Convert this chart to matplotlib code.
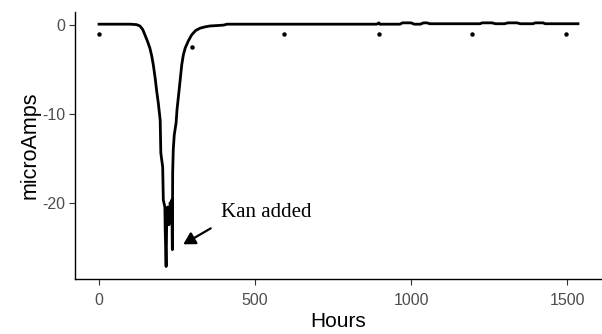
import matplotlib.pyplot as plt

plt.rcParams["axes.unicode_minus"] = False

# current trace (hours vs microAmps)
hours = [0, 60, 100, 120, 131, 140, 147, 155, 163, 169, 174, 180, 185, 190,
         196, 198, 204, 206, 211, 212, 215, 217, 220, 224, 228, 231, 233,
         235, 236, 238, 241, 247, 250, 254, 260, 265, 270, 276, 286, 297,
         310, 324, 340, 356, 380, 400, 410, 600, 890, 897, 900, 965, 972,
         1000, 1010, 1030, 1040, 1051, 1060, 1221, 1228, 1260, 1270, 1300,
         1310, 1340, 1350, 1391, 1398, 1423, 1430, 1535]
current = [0.1, 0.1, 0.1, 0.05, -0.1, -0.5, -1.1, -1.8, -2.6, -3.5, -4.5,
           -6.0, -7.5, -8.8, -10.7, -14.4, -16.0, -19.7, -20.5, -23.0,
           -27.2, -22.0, -20.5, -22.5, -20.0, -21.0, -19.7, -25.3, -16.6,
           -14.0, -12.4, -11.0, -9.5, -8.2, -6.2, -4.5, -3.4, -2.6, -1.8,
           -1.1, -0.6, -0.35, -0.2, -0.1, -0.05, 0.0, 0.1, 0.1, 0.1, 0.25,
           0.1, 0.1, 0.25, 0.25, 0.1, 0.1, 0.25, 0.25, 0.15, 0.15, 0.25,
           0.25, 0.15, 0.15, 0.25, 0.25, 0.15, 0.15, 0.25, 0.25, 0.15, 0.15]

# stray readings below the trace
out_hours = [0, 297, 593, 897, 1195, 1497]
out_current = [-0.95, -2.5, -0.95, -0.95, -0.95, -0.95]

fig = plt.figure(figsize=(6.02, 3.34), dpi=100)
ax = fig.add_axes([0.1246, 0.1638, 0.8754, 0.801])

ax.plot(hours, current, color="black", lw=2.0)
ax.plot(out_hours, out_current, "o", color="black", markersize=2.2)

ax.annotate("", xy=(270, -24.7), xytext=(358, -22.9),
            arrowprops=dict(arrowstyle="-|>,head_length=0.7,head_width=0.4",
                            color="black", lw=1.6, shrinkA=0, shrinkB=0))
ax.text(390, -21.1, "Kan added", fontsize=15, family="Liberation Serif",
        va="center", ha="left")

ax.set_xlim(-77, 1612)
ax.set_ylim(-28.64, 1.5)
ax.set_xticks([0, 500, 1000, 1500])
ax.set_yticks([0, -10, -20])

for side in ["top", "right"]:
    ax.spines[side].set_visible(False)
for side in ["left", "bottom"]:
    ax.spines[side].set_color("black")
    ax.spines[side].set_linewidth(1.0)

ax.tick_params(axis="both", colors="#333333", length=4, width=0.8,
               labelsize=11.5, labelcolor="#4D4D4D")
ax.tick_params(axis="x", pad=6)
ax.tick_params(axis="y", pad=3)
for lab in ax.get_xticklabels() + ax.get_yticklabels():
    lab.set_family("Liberation Sans")

ax.set_xlabel("Hours", fontsize=15, family="Liberation Sans", labelpad=3)
ax.set_ylabel("microAmps", fontsize=15.5, family="Liberation Sans", labelpad=1)

fig.savefig("out.png", dpi=100)
